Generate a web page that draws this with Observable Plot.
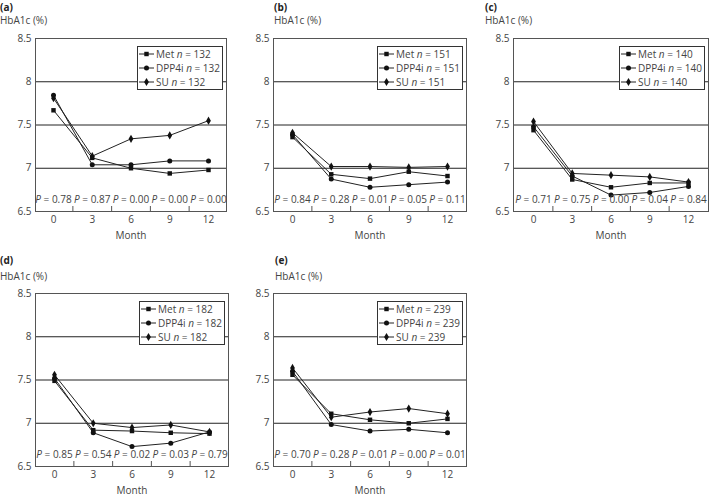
<!DOCTYPE html>
<html><head><meta charset="utf-8">
<script src="https://cdn.jsdelivr.net/npm/d3@7"></script>
<script src="https://cdn.jsdelivr.net/npm/@observablehq/plot@0.6"></script>
<style>
body{margin:0;background:#fff;font-family:"Open Sans",sans-serif;}
#root{position:relative;width:709px;height:498px;overflow:hidden;}
.ttl{position:absolute;font-size:10px;font-weight:bold;color:#222;line-height:12px;white-space:nowrap}
.hb{position:absolute;font-size:10px;color:#444;line-height:12px;white-space:nowrap}
.pl{position:absolute}
.leg{position:absolute;border:1px solid #333;background:#fff;font-size:10px;color:#444;padding:0 2px 0 1px}
.leg .row{display:flex;align-items:center;height:14px;white-space:nowrap}
.leg svg{margin-right:2px}
</style></head><body><div id="root"></div>
<script>
const months = [0, 3, 6, 9, 12];
const panelLabels = ["(a)", "(b)", "(c)", "(d)", "(e)"];
const drugs = ["Met", "DPP4i", "SU"];
const nValues = [132, 151, 140, 182, 239];
const metValues = [
  [7.67, 7.12, 7.00, 6.94, 6.98],
  [7.36, 6.93, 6.88, 6.96, 6.91],
  [7.44, 6.87, 6.78, 6.83, 6.83],
  [7.49, 6.92, 6.91, 6.89, 6.88],
  [7.56, 7.11, 7.04, 7.00, 7.05]
];
const dppValues = [
  [7.845, 7.04, 7.04, 7.085, 7.085],
  [7.39, 6.875, 6.78, 6.81, 6.84],
  [7.48, 6.91, 6.69, 6.72, 6.79],
  [7.52, 6.89, 6.73, 6.77, 6.90],
  [7.60, 6.985, 6.91, 6.93, 6.89]
];
const suValues = [
  [7.81, 7.14, 7.34, 7.38, 7.55],
  [7.41, 7.02, 7.02, 7.01, 7.02],
  [7.54, 6.94, 6.92, 6.90, 6.84],
  [7.56, 7.00, 6.95, 6.98, 6.90],
  [7.64, 7.07, 7.13, 7.17, 7.11]
];
const pValues = [
  ["0.78", "0.87", "0.00", "0.00", "0.00"],
  ["0.84", "0.28", "0.01", "0.05", "0.11"],
  ["0.71", "0.75", "0.00", "0.04", "0.84"],
  ["0.85", "0.54", "0.02", "0.03", "0.79"],
  ["0.70", "0.28", "0.01", "0.00", "0.01"]
];
const yTicks = [6.5, 7, 7.5, 8, 8.5];
const gridValues = [7, 7.5, 8];
const boundaries = [1.5, 4.5, 7.5, 10.5];
const symbolNames = ["square", "circle", "diamond"];

// layout (pixel frames of each panel)
const layout = [
  {L: 35, R: 226, T: 38, B: 211, tx: 0, ty: 1, hy: 14},
  {L: 273, R: 466, T: 38, B: 211, tx: 274, ty: 1, hy: 14},
  {L: 513, R: 708, T: 38, B: 211, tx: 485, ty: 1, hy: 14},
  {L: 35, R: 228, T: 293, B: 466, tx: 0, ty: 254, hy: 270},
  {L: 273, R: 466, T: 293, B: 466, tx: 275, ty: 254, hy: 270}
];
const ML = 35, MR = 1, MT = 10, MB = 35;
const d3Sym = {square: d3.symbolSquare, circle: d3.symbolCircle, diamond: d3.symbolDiamond};
const R_DOT = 2.5;

const root = document.getElementById("root");

panelLabels.forEach((lab, i) => {
  const f = layout[i];
  const series = [metValues[i], dppValues[i], suValues[i]];
  const data = [];
  drugs.forEach((d, k) => months.forEach((m, j) => data.push({month: m, drug: d, v: series[k][j]})));

  const t = document.createElement("div");
  t.className = "ttl"; t.style.left = f.tx + "px"; t.style.top = f.ty + "px"; t.textContent = lab;
  root.appendChild(t);
  const h = document.createElement("div");
  h.className = "hb"; h.style.left = f.tx + "px"; h.style.top = f.hy + "px"; h.textContent = "HbA1c (%)";
  root.appendChild(h);

  const inset = (f.R - f.L - 155) / 2;
  const plot = Plot.plot({
    width: f.R - f.L + ML + MR,
    height: f.B - f.T + MT + MB,
    marginLeft: ML, marginRight: MR, marginTop: MT, marginBottom: MB,
    style: {fontFamily: "Open Sans", fontSize: "10px", color: "#444", background: "transparent", overflow: "visible"},
    x: {domain: [0, 12], inset},
    y: {domain: [6.5, 8.5]},
    symbol: {domain: drugs, range: symbolNames},
    marks: [
      Plot.ruleY(gridValues, {stroke: "#222", strokeWidth: 1}),
      Plot.frame({stroke: "#555"}),
      Plot.axisY({ticks: yTicks, tickSize: 0, tickPadding: 4, tickFormat: d => String(d), label: null}),
      Plot.axisX({ticks: months, tickSize: 0, tickPadding: 4, label: null}),
      Plot.ruleX(boundaries, {x: d => d, y1: 6.5, y2: 6.5, insetTop: -5, stroke: "#555"}),
      Plot.text(["Month"], {frameAnchor: "bottom", dy: 27, fill: "#444"}),
      Plot.line(data, {x: "month", y: "v", z: "drug", stroke: "#222", strokeWidth: 1}),
      Plot.dot(data, {x: "month", y: "v", symbol: "drug", fill: "#111", stroke: "none", r: R_DOT}),
      Plot.text(months, {x: d => d, frameAnchor: "bottom", dy: -9, fill: "#444", text: (d, j) => "P = " + pValues[i][j]})
    ]
  });
  plot.classList.add("pl");
  plot.style.left = (f.L - ML) + "px";
  plot.style.top = (f.T - MT) + "px";
  plot.style.position = "absolute";
  d3.select(plot).selectAll("text").each(function () {
    const s = this.textContent;
    if (s.startsWith("P = ")) {
      const rest = s.slice(1);
      const sel = d3.select(this);
      sel.text(null);
      sel.append("tspan").attr("font-style", "italic").text("P");
      sel.append("tspan").text(rest);
    }
  });
  root.appendChild(plot);

  const leg = document.createElement("div");
  leg.className = "leg";
  leg.style.right = (709 - (f.R - 3)) + "px";
  leg.style.top = (f.T + 8) + "px";
  drugs.forEach((d, k) => {
    const row = document.createElement("div");
    row.className = "row";
    const sz = R_DOT * R_DOT * Math.PI;
    const path = d3.symbol(d3Sym[symbolNames[k]], sz)();
    row.innerHTML = `<svg width="15" height="10"><line x1="0" x2="15" y1="5" y2="5" stroke="#222"/><path d="${path}" transform="translate(7.5,5)" fill="#111"/></svg><span>${d} <i>n</i> = ${nValues[i]}</span>`;
    leg.appendChild(row);
  });
  root.appendChild(leg);
});
</script>
</body></html>
